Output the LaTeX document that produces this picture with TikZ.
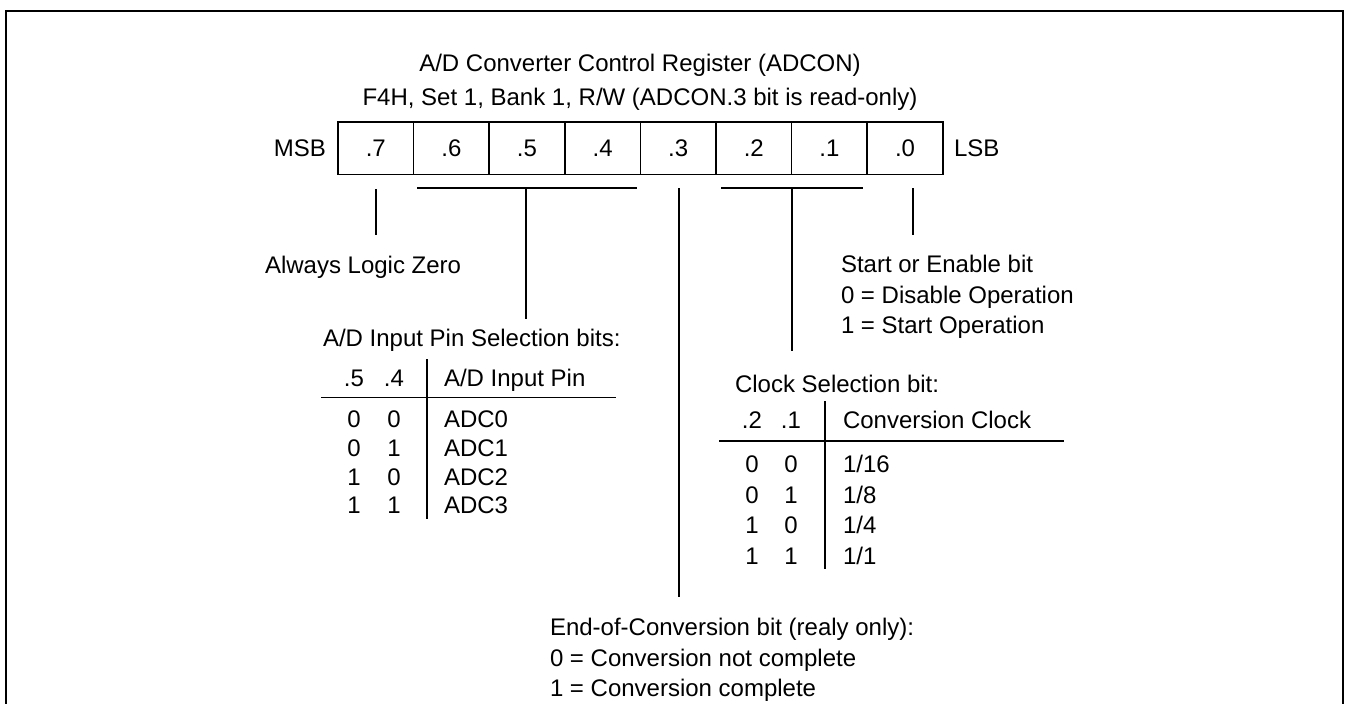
\documentclass[tikz,border=0pt]{standalone}
\usepackage{fontspec}
\setmainfont{Liberation Sans}
\begin{document}
\begin{tikzpicture}[x=1pt,y=-1pt,
  every node/.style={inner sep=0pt, outer sep=0pt, font=\fontsize{24}{28}\selectfont},
  lbl/.style={anchor=base west},
  ctr/.style={anchor=base},
  cell/.style={draw, line width=1.5pt, minimum width=75.6pt, minimum height=52.5pt, anchor=center},
  conn/.style={line width=1.6pt},
  frame/.style={line width=2.5pt}]
\useasboundingbox (0,0) rectangle (1345,704);
% outer frame
\coordinate (fbl) at (6,704);
\coordinate (ftl) at (6,11);
\coordinate (ftr) at (1343,11);
\coordinate (fbr) at (1343,704);
\draw[frame] (fbl) -- (ftl) -- (ftr) -- (fbr);
% title
\node[ctr] (title1) at (640,71.5) {A/D Converter Control Register (ADCON)};
\node[ctr] (title2) at (640,105.5) {F4H, Set 1, Bank 1, R/W (ADCON.3 bit is read-only)};
% register cells
\node[cell] (b7) at (375.8,148.2) {};
\node[cell] (b6) at (451.4,148.2) {};
\node[cell] (b5) at (527.0,148.2) {};
\node[cell] (b4) at (602.6,148.2) {};
\node[cell] (b3) at (678.2,148.2) {};
\node[cell] (b2) at (753.8,148.2) {};
\node[cell] (b1) at (829.4,148.2) {};
\node[cell] (b0) at (905.0,148.2) {};
\foreach \n/\t in {b7/.7,b6/.6,b5/.5,b4/.4,b3/.3,b2/.2,b1/.1,b0/.0}
  \node[ctr] at ([yshift=-8.5pt]\n.center) {\t};
\node[anchor=base east] (msb) at (326,156.5) {MSB};
\node[lbl] (lsb) at (954,156.5) {LSB};
% connectors
\coordinate (c7a) at (376,189);
\coordinate (c7b) at (376,235);
\draw[conn] (c7a) -- (c7b);
\coordinate (br1l) at (417,188);
\coordinate (br1r) at (637,188);
\coordinate (br1m) at (526,188);
\coordinate (br1e) at (526,319);
\draw[conn] (br1l) -- (br1r);
\draw[conn] (br1m) -- (br1e);
\coordinate (c3a) at (679,188);
\coordinate (c3b) at (679,597);
\draw[conn] (c3a) -- (c3b);
\coordinate (br2l) at (721,188);
\coordinate (br2r) at (863,188);
\coordinate (br2m) at (792,188);
\coordinate (br2e) at (792,351);
\draw[conn] (br2l) -- (br2r);
\draw[conn] (br2m) -- (br2e);
\coordinate (c0a) at (913,188);
\coordinate (c0b) at (913,235);
\draw[conn] (c0a) -- (c0b);
% bit 7 text
\node[lbl] (alz) at (265,273.5) {Always Logic Zero};
% table 1
\node[lbl] (t1title) at (323,346.5) {A/D Input Pin Selection bits:};
\node[ctr] (t1h1) at (354,386.5) {.5};
\node[ctr] (t1h2) at (394,386.5) {.4};
\node[lbl] (t1h3) at (444,386.5) {A/D Input Pin};
\foreach \a/\b/\c/\y in {0/0/ADC0/427.5, 0/1/ADC1/456.5, 1/0/ADC2/485, 1/1/ADC3/513.5}{
  \node[ctr] at (354,\y) {\a};
  \node[ctr] at (394,\y) {\b};
  \node[lbl] at (444,\y) {\c};
}
\coordinate (t1vt) at (427,359);
\coordinate (t1vb) at (427,519);
\coordinate (t1hl) at (321,397.5);
\coordinate (t1hr) at (616,397.5);
\draw[conn] (t1vt) -- (t1vb);
\draw[conn] (t1hl) -- (t1hr);
% bit 0 text
\node[lbl] (se1) at (841,272.5) {Start or Enable bit};
\node[lbl] (se2) at (841,303.5) {0 = Disable Operation};
\node[lbl] (se3) at (841,333.5) {1 = Start Operation};
% table 2
\node[lbl] (t2title) at (735,392.5) {Clock Selection bit:};
\node[ctr] (t2h1) at (752,428.5) {.2};
\node[ctr] (t2h2) at (791,428.5) {.1};
\node[lbl] (t2h3) at (843,428.5) {Conversion Clock};
\foreach \a/\b/\c/\y in {0/0/1\slash 16/472.5, 0/1/1\slash 8/503, 1/0/1\slash 4/533.5, 1/1/1\slash 1/564}{
  \node[ctr] at (752,\y) {\a};
  \node[ctr] at (791,\y) {\b};
  \node[lbl] at (843,\y) {\c};
}
\coordinate (t2vt) at (825,401);
\coordinate (t2vb) at (825,569);
\coordinate (t2hl) at (719,441);
\coordinate (t2hr) at (1064,441);
\draw[conn] (t2vt) -- (t2vb);
\draw[conn] (t2hl) -- (t2hr);
% bit 3 text
\node[lbl] (eoc1) at (550,635.5) {End-of-Conversion bit (realy only):};
\node[lbl] (eoc2) at (550,666) {0 = Conversion not complete};
\node[lbl] (eoc3) at (550,696) {1 = Conversion complete};
\end{tikzpicture}
\end{document}
